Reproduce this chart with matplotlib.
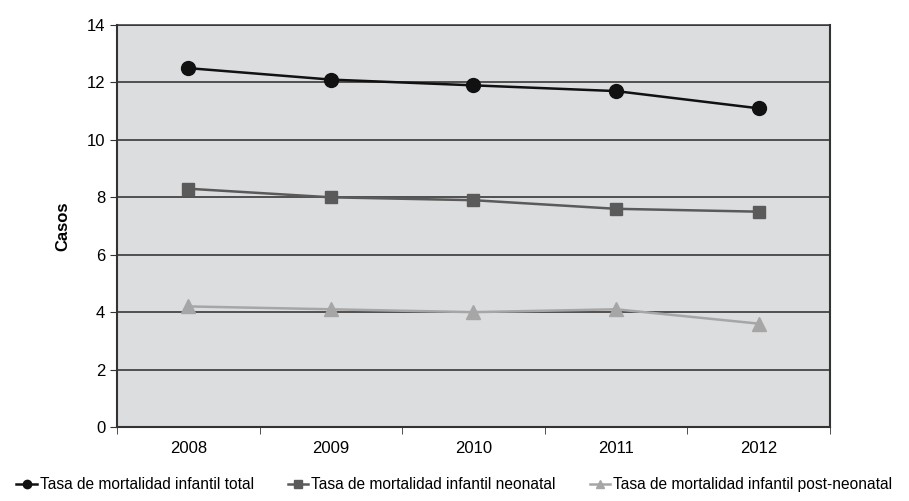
import numpy as np
import matplotlib.pyplot as plt
from matplotlib.lines import Line2D

years = ["2008", "2009", "2010", "2011", "2012"]
total = [12.5, 12.1, 11.9, 11.7, 11.1]
neonatal = [8.3, 8.0, 7.9, 7.6, 7.5]
post_neonatal = [4.2, 4.1, 4.0, 4.1, 3.6]

labels = [
    "Tasa de mortalidad infantil total",
    "Tasa de mortalidad infantil neonatal",
    "Tasa de mortalidad infantil post-neonatal",
]
colors = ["#111111", "#5a5a5a", "#a6a6a6"]
markers = ["o", "s", "^"]

plt.rcParams["font.family"] = ["Liberation Sans", "DejaVu Sans"]

fig = plt.figure(figsize=(9.09, 5.01), dpi=100)
ax = fig.add_axes([0.1287, 0.1477, 0.7843, 0.8023])
ax.set_facecolor("#dcdddf")

x = np.arange(len(years))

# gridlines
for v in range(2, 15, 2):
    ax.axhline(v, color="#2a2a2a", linewidth=1.1, zorder=1)

series = [total, neonatal, post_neonatal]
sizes = [10, 9, 10]
for i, vals in enumerate(series):
    ax.plot(x, vals, color=colors[i], marker=markers[i], markersize=sizes[i],
            linewidth=1.8, zorder=4 - i)

ax.set_xlim(-0.5, len(years) - 0.5)
ax.set_ylim(0, 14)
ax.set_yticks(range(0, 15, 2))
ax.set_xticks(x)
ax.set_xticklabels(years)
ax.set_xticks(np.arange(-0.5, len(years)), minor=True)
ax.tick_params(axis="x", which="major", length=0, pad=10, labelsize=12)
ax.tick_params(axis="x", which="minor", length=5, direction="out", color="#333333")
ax.tick_params(axis="y", length=5, direction="out", labelsize=12, color="#333333")

for side in ["left", "bottom", "right", "top"]:
    ax.spines[side].set_color("#333333")
    ax.spines[side].set_linewidth(1.5)
ax.spines["top"].set_linewidth(1.1)

ax.set_ylabel("Casos", fontsize=12, fontweight="bold", labelpad=12)

handles = [Line2D([], [], color=colors[i], marker=markers[i], markersize=6,
                  linewidth=1.8) for i in range(3)]
fig.legend(handles, labels, loc="lower center", bbox_to_anchor=(0.5, -0.01), ncol=3,
           frameon=False, fontsize=11.2, handlelength=1.3, handletextpad=0.2,
           columnspacing=2.2)

fig.savefig("out.png", dpi=100)
